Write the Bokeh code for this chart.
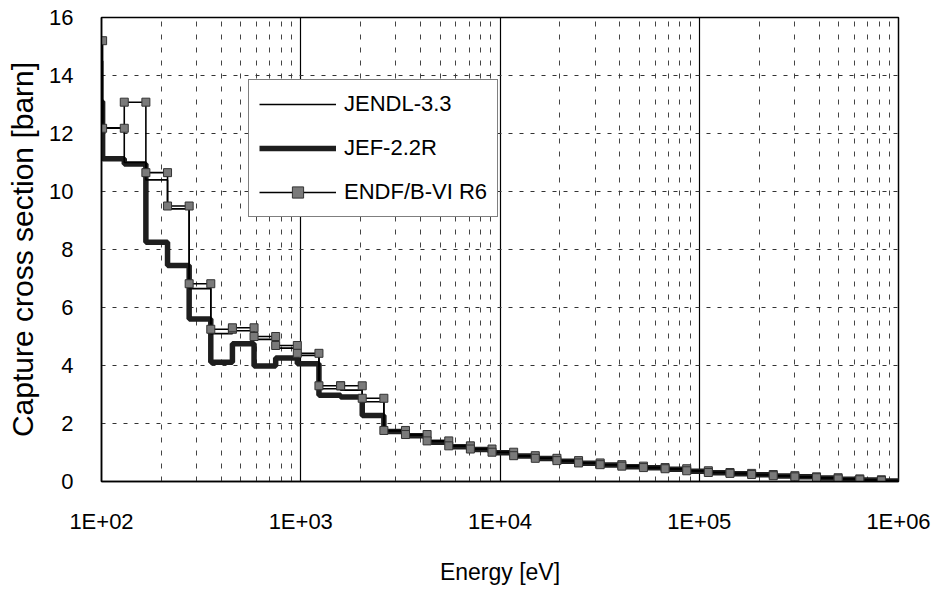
import numpy as np
from bokeh.plotting import figure
from bokeh.models import FixedTicker, Legend, LegendItem
from bokeh.embed import file_html
from bokeh.resources import INLINE

# Group boundaries [eV] (lethargy width 0.25 structure), ascending
energy_bounds = [78.89, 101.3, 130.1, 167.0, 214.5, 275.4, 353.6, 454.0, 583.0,
                 748.5, 961.1, 1234.0, 1585.0, 2035.0, 2613.0, 3355.0, 4307.0,
                 5531.0, 7102.0, 9119.0, 11709.0, 15034.0, 19305.0, 24788.0,
                 31828.0, 40868.0, 52475.0, 67379.0, 86517.0, 111090.0,
                 142642.0, 183156.0, 235177.0, 301974.0, 387742.0, 497871.0,
                 639279.0, 820850.0, 1053992.0]

# Group-wise capture cross sections [barn], ascending energy
jendl33 = [14.5, 12.2, 11.0, 10.4, 9.4, 6.65, 5.1, 5.2, 4.9, 4.6, 4.35, 3.2,
           3.15, 2.75, 1.74, 1.60, 1.38, 1.22, 1.12, 1.00, 0.88, 0.80, 0.71,
           0.64, 0.58, 0.52, 0.48, 0.43, 0.36, 0.31, 0.27, 0.23, 0.19, 0.16,
           0.12, 0.09, 0.05, 0.02]
jef22r = [13.1, 11.13, 10.95, 8.25, 7.45, 5.6, 4.11, 4.75, 3.98, 4.26, 4.06,
          2.97, 2.91, 2.28, 1.72, 1.58, 1.35, 1.20, 1.10, 0.99, 0.88, 0.79,
          0.70, 0.63, 0.57, 0.51, 0.47, 0.42, 0.35, 0.30, 0.27, 0.23, 0.19,
          0.16, 0.12, 0.08, 0.05, 0.02]
endfb6 = [15.2, 12.18, 13.08, 10.65, 9.5, 6.82, 5.25, 5.3, 5.0, 4.69, 4.42,
          3.3, 3.3, 2.87, 1.76, 1.62, 1.40, 1.23, 1.12, 1.01, 0.89, 0.80,
          0.72, 0.64, 0.58, 0.53, 0.48, 0.44, 0.37, 0.31, 0.28, 0.24, 0.20,
          0.16, 0.13, 0.09, 0.06, 0.03]

series_labels = ["JENDL-3.3", "JEF-2.2R", "ENDF/B-VI R6"]
x_ticks = [100, 1000, 10000, 100000, 1000000]
x_tick_labels = ["1E+02", "1E+03", "1E+04", "1E+05", "1E+06"]
y_ticks = [0, 2, 4, 6, 8, 10, 12, 14, 16]

FONT = "Liberation Sans"


def steps(bounds, vals):
    b = np.asarray(bounds, dtype=float)
    v = np.asarray(vals, dtype=float)
    return np.repeat(b, 2)[1:-1], np.repeat(v, 2)


p = figure(width=935, height=600, x_axis_type="log",
           x_range=(x_ticks[0], x_ticks[-1]), y_range=(y_ticks[0], y_ticks[-1]),
           output_backend="svg", toolbar_location=None,
           min_border_left=101, min_border_right=37,
           min_border_top=17, min_border_bottom=119)
p.background_fill_color = "white"
p.border_fill_color = "white"
p.outline_line_color = "black"
p.outline_line_width = 1.5

minor = [m * 10 ** k for k in range(2, 6) for m in range(2, 10)]
p.xaxis.ticker = FixedTicker(ticks=x_ticks, minor_ticks=minor)
p.xaxis.major_label_overrides = {t: lab for t, lab in zip(x_ticks, x_tick_labels)}
p.yaxis.ticker = FixedTicker(ticks=y_ticks)

for ax in (p.xaxis[0], p.yaxis[0]):
    ax.major_tick_line_color = None
    ax.minor_tick_line_color = None
    ax.axis_line_color = "black"
    ax.axis_line_width = 1.5
    ax.major_label_text_font = FONT
    ax.axis_label_text_font = FONT
    ax.axis_label_text_font_style = "normal"
    ax.major_label_text_color = "black"
    ax.axis_label_text_color = "black"

p.xaxis.axis_label = "Energy [eV]"
p.yaxis.axis_label = "Capture cross section [barn]"
p.xaxis.major_label_text_font_size = "22px"
p.yaxis.major_label_text_font_size = "22px"
p.xaxis.axis_label_text_font_size = "23px"
p.yaxis.axis_label_text_font_size = "30px"
p.xaxis.major_label_standoff = 21
p.yaxis.major_label_standoff = 22
p.xaxis.axis_label_standoff = 22
p.yaxis.axis_label_standoff = 7

p.xgrid.grid_line_color = "black"
p.xgrid.grid_line_alpha = 1.0
p.xgrid.grid_line_width = 1.2
p.xgrid.minor_grid_line_color = "#444444"
p.xgrid.minor_grid_line_dash = "5 8"
p.xgrid.minor_grid_line_width = 1
p.ygrid.grid_line_color = "#333333"
p.ygrid.grid_line_alpha = 1.0
p.ygrid.grid_line_dash = "4 7"
p.ygrid.grid_line_width = 1

x1, y1 = steps(energy_bounds, jendl33)
x2, y2 = steps(energy_bounds, jef22r)
x3, y3 = steps(energy_bounds, endfb6)

r_jef = p.line(x2, y2, line_color="#1e1e1e", line_width=5.5)
r_jendl = p.line(x1, y1, line_color="black", line_width=1.6)
r_endf = p.line(x3, y3, line_color="black", line_width=1.6)
r_endf_m = p.scatter(x3, y3, marker="square", size=8,
                     fill_color="#7a7a7a", line_color="#333333", line_width=1)

legend = Legend(items=[
    LegendItem(label=series_labels[0], renderers=[r_jendl]),
    LegendItem(label=series_labels[1], renderers=[r_jef]),
    LegendItem(label=series_labels[2], renderers=[r_endf, r_endf_m]),
], location=(147, 264))
legend.label_text_font = FONT
legend.label_text_font_size = "22px"
legend.label_text_color = "black"
legend.padding = 10
legend.spacing = 16
legend.margin = 0
legend.glyph_width = 77
legend.glyph_height = 28
legend.label_height = 28
legend.label_standoff = 8
legend.border_line_color = "black"
legend.border_line_width = 1.5
legend.background_fill_color = "white"
legend.background_fill_alpha = 1.0
p.add_layout(legend)

open("out.html", "w").write(file_html(p, INLINE))
